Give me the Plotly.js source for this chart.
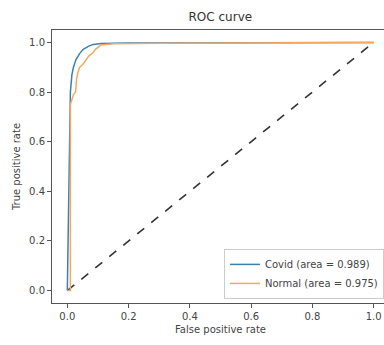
<!DOCTYPE html>
<html><head><meta charset="utf-8">
<script src="https://cdn.plot.ly/plotly-3.0.1.min.js"></script>
<style>html,body{margin:0;padding:0;overflow:hidden;background:#fff}#c{width:390px;height:345px}</style>
</head><body><div id="c"></div>
<script>
const covidFpr = [0, 0.003, 0.006, 0.01, 0.015, 0.02, 0.028, 0.04, 0.052, 0.07, 0.085, 0.11, 0.2, 0.5, 1.0];
const covidTpr = [0, 0.3, 0.6, 0.8, 0.87, 0.9, 0.93, 0.955, 0.972, 0.985, 0.992, 0.996, 0.998, 0.999, 1.0];
const normalFpr = [0, 0.01, 0.01, 0.02, 0.027, 0.03, 0.035, 0.04, 0.05, 0.055, 0.065, 0.07, 0.085, 0.09, 0.1, 0.11, 0.15, 0.3, 1.0];
const normalTpr = [0, 0.0, 0.75, 0.79, 0.8, 0.85, 0.88, 0.9, 0.91, 0.92, 0.935, 0.945, 0.96, 0.97, 0.98, 0.99, 0.995, 0.997, 1.0];
const diagX = [0, 1];
const diagY = [0, 1];
const seriesNames = ["Covid (area = 0.989)", "Normal (area = 0.975)"];
const tickVals = [0, 0.2, 0.4, 0.6, 0.8, 1.0];
const tickText = ["0.0", "0.2", "0.4", "0.6", "0.8", "1.0"];

const font = {family: "DejaVu Sans, sans-serif", size: 10, color: "#444"};
const traces = [
  {x: diagX, y: diagY, mode: "lines", line: {color: "#333", width: 1.6, dash: "dash"}, showlegend: false, hoverinfo: "skip"},
  {x: covidFpr, y: covidTpr, mode: "lines", name: seriesNames[0], line: {color: "#3d7fae", width: 1.5}},
  {x: normalFpr, y: normalTpr, mode: "lines", name: seriesNames[1], line: {color: "#f4a860", width: 1.5}}
];
const axis = {
  range: [-0.05, 1.05], tickvals: tickVals, ticktext: tickText,
  showgrid: false, zeroline: false, showline: true, mirror: true,
  linecolor: "#555", linewidth: 1, ticks: "outside", ticklen: 4, tickcolor: "#555",
  tickfont: font
};
const layout = {
  width: 390, height: 345,
  margin: {l: 52, r: 1, t: 30, b: 42},
  paper_bgcolor: "#fff", plot_bgcolor: "#fff",
  title: {text: "ROC curve", font: {family: "DejaVu Sans, sans-serif", size: 12, color: "#333"}, x: 0.565, xanchor: "center", y: 0.95, yanchor: "middle"},
  xaxis: Object.assign({}, axis, {title: {text: "False positive rate", font: font, standoff: 4}}),
  yaxis: Object.assign({}, axis, {title: {text: "True positive rate", font: font, standoff: 6}}),
  legend: {x: 0.985, y: 0.015, xanchor: "right", yanchor: "bottom", bgcolor: "#fff", bordercolor: "#ccc", borderwidth: 1, font: font, tracegroupgap: 0, itemwidth: 30},
  showlegend: true
};
Plotly.newPlot("c", traces, layout, {staticPlot: true, displayModeBar: false});
</script></body></html>
